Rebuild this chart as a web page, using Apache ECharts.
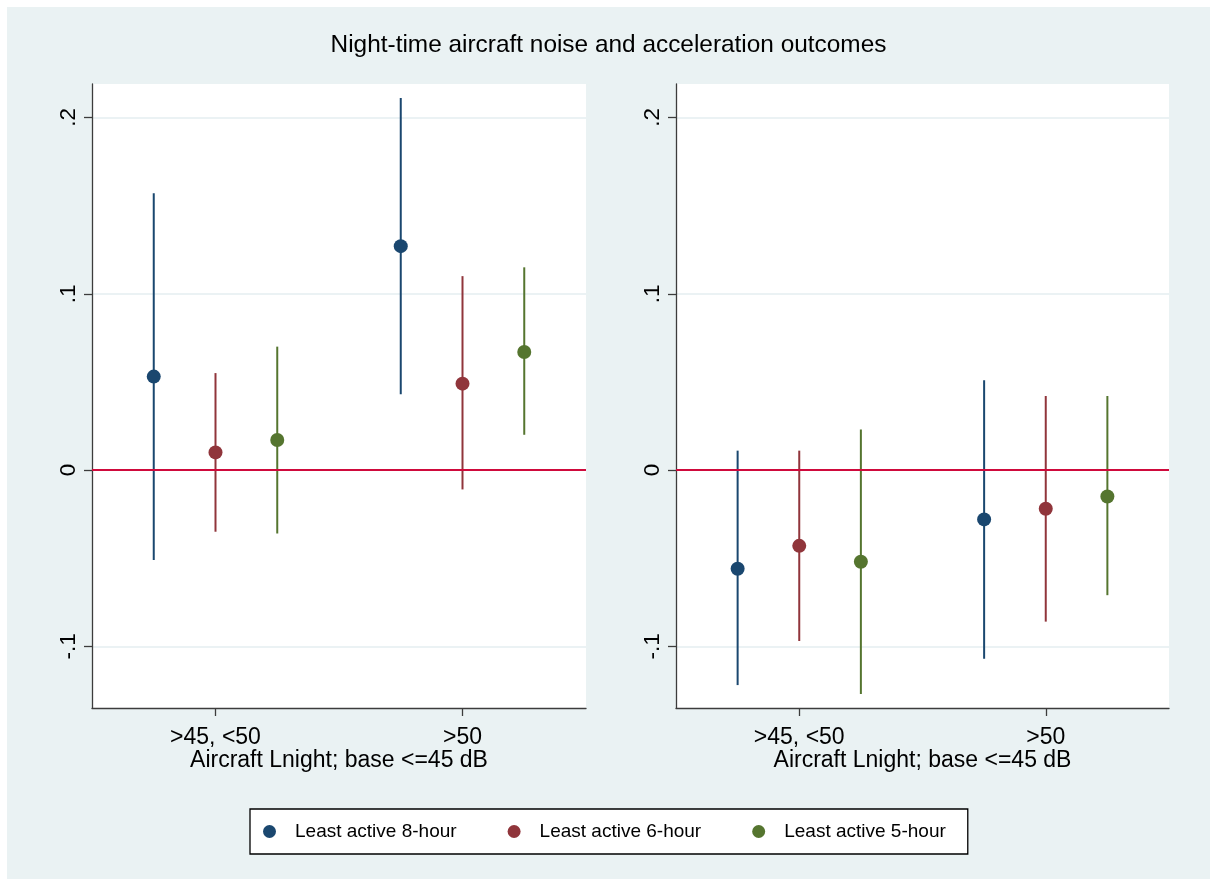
<!DOCTYPE html>
<html>
<head>
<meta charset="utf-8">
<title>Night-time aircraft noise and acceleration outcomes</title>
<script src="https://cdn.jsdelivr.net/npm/echarts@6/dist/echarts.min.js"></script>
<style>
  html, body { margin: 0; padding: 0; background: #ffffff; width: 1210px; height: 879px; overflow: hidden; }
  #chart { position: absolute; left: 7px; top: 7px; width: 1203px; height: 872px; }
</style>
</head>
<body>
<div id="chart"></div>
<script>
// Noise bands on the x axis and the three outcome definitions
const categories = ['>45, <50', '>50'];
const seriesNames = ['Least active 8-hour', 'Least active 6-hour', 'Least active 5-hour'];

// y-axis tick values and their printed labels
const yTicks = [-0.1, 0, 0.1, 0.2];
const yTickLabels = ['-.1', '0', '.1', '.2'];

// Left panel: estimates with lower / upper confidence bounds, one value per band
const leftEst8 = [0.053, 0.127];
const leftLo8  = [-0.051, 0.043];
const leftHi8  = [0.157, 0.211];
const leftEst6 = [0.010, 0.049];
const leftLo6  = [-0.035, -0.011];
const leftHi6  = [0.055, 0.110];
const leftEst5 = [0.017, 0.067];
const leftLo5  = [-0.036, 0.020];
const leftHi5  = [0.070, 0.115];

// Right panel
const rightEst8 = [-0.056, -0.028];
const rightLo8  = [-0.122, -0.107];
const rightHi8  = [0.011, 0.051];
const rightEst6 = [-0.043, -0.022];
const rightLo6  = [-0.097, -0.086];
const rightHi6  = [0.011, 0.042];
const rightEst5 = [-0.052, -0.015];
const rightLo5  = [-0.127, -0.071];
const rightHi5  = [0.023, 0.042];

const panels = [
  { est: [leftEst8, leftEst6, leftEst5], lo: [leftLo8, leftLo6, leftLo5], hi: [leftHi8, leftHi6, leftHi5] },
  { est: [rightEst8, rightEst6, rightEst5], lo: [rightLo8, rightLo6, rightLo5], hi: [rightHi8, rightHi6, rightHi5] }
];

// Each band sits at a slot on a 0..8 value axis; the three outcomes are spread around it
const slotCenters = [2, 6];
const slotOffsets = [-1, 0, 1];
const colors = ['#1a476f', '#90353b', '#55752f'];
const FONT = "'Liberation Sans', Arial, Helvetica, sans-serif";

const grids = [
  { left: 85, top: 77, width: 494, height: 624 },
  { left: 669, top: 77, width: 493, height: 624 }
];

const xAxes = grids.map((g, i) => ({
  type: 'value', gridIndex: i, min: 0, max: 8,
  name: 'Aircraft Lnight; base <=45 dB', nameLocation: 'middle', nameGap: 41,
  nameMoveOverlap: false,
  nameTextStyle: { fontFamily: FONT, fontSize: 23, color: '#000' },
  axisLine: { show: true, onZero: false, lineStyle: { color: '#3c3c3c', width: 1.3 } },
  axisTick: { show: true, length: 8, customValues: slotCenters, lineStyle: { color: '#3c3c3c', width: 1.3 } },
  axisLabel: {
    customValues: slotCenters, margin: 18, fontFamily: FONT, fontSize: 23, color: '#000',
    formatter: v => categories[slotCenters.indexOf(v)] || ''
  },
  splitLine: { show: false }
}));

const yAxes = grids.map((g, i) => ({
  type: 'value', gridIndex: i, min: -0.135, max: 0.219,
  axisLine: { show: true, onZero: false, lineStyle: { color: '#3c3c3c', width: 1.3 } },
  axisTick: { show: true, length: 8, customValues: yTicks, lineStyle: { color: '#3c3c3c', width: 1.3 } },
  axisLabel: {
    customValues: yTicks, rotate: 90, margin: 12, fontFamily: FONT, fontSize: 22.5, color: '#000',
    formatter: v => {
      const k = yTicks.findIndex(t => Math.abs(t - v) < 1e-9);
      return k >= 0 ? yTickLabels[k] : '';
    }
  },
  splitLine: { show: true, lineStyle: { color: '#e4eef0', width: 1.5 } }
}));

const series = [];
panels.forEach((panel, p) => {
  // zero reference line
  series.push({
    type: 'line', xAxisIndex: p, yAxisIndex: p, data: [], silent: true, z: 1,
    markLine: {
      silent: true, symbol: ['none', 'none'], label: { show: false },
      lineStyle: { color: '#cf0a3c', width: 2, type: 'solid' },
      emphasis: { disabled: true },
      data: [{ yAxis: 0 }]
    }
  });
  for (let s = 0; s < 3; s++) {
    const x = slotCenters.map(c => c + slotOffsets[s]);
    // point estimates
    series.push({
      type: 'scatter', name: seriesNames[s], xAxisIndex: p, yAxisIndex: p, z: 3,
      symbol: 'circle', symbolSize: 14,
      itemStyle: { color: colors[s], opacity: 1 },
      data: x.map((xv, i) => [xv, panel.est[s][i]])
    });
    // confidence interval spikes
    series.push({
      type: 'custom', name: seriesNames[s], xAxisIndex: p, yAxisIndex: p, z: 2, silent: true,
      itemStyle: { color: colors[s] },
      data: x.map((xv, i) => [xv, panel.lo[s][i], panel.hi[s][i]]),
      encode: { x: 0, y: [1, 2] },
      renderItem: (params, api) => {
        const a = api.coord([api.value(0), api.value(1)]);
        const b = api.coord([api.value(0), api.value(2)]);
        return {
          type: 'line',
          shape: { x1: a[0], y1: a[1], x2: b[0], y2: b[1] },
          style: { stroke: colors[s], lineWidth: 2 }
        };
      }
    });
  }
});

const chart = echarts.init(document.getElementById('chart'), null, { renderer: 'canvas' });
chart.setOption({
  backgroundColor: '#eaf2f3',
  animation: false,
  color: colors,
  textStyle: { fontFamily: FONT },
  title: {
    text: 'Night-time aircraft noise and acceleration outcomes',
    left: 'center', top: 21,
    textStyle: { fontFamily: FONT, fontSize: 24.4, fontWeight: 'normal', color: '#000' }
  },
  grid: grids.map(g => Object.assign({ backgroundColor: '#ffffff', show: true, borderWidth: 0 }, g)),
  xAxis: xAxes,
  yAxis: yAxes,
  legend: {
    data: seriesNames.map((n, s) => ({ name: n, icon: 'circle', itemStyle: { color: colors[s] } })),
    left: 243, top: 802,
    orient: 'horizontal',
    itemWidth: 13, itemHeight: 13, itemGap: 51,
    padding: [13, 22, 13, 13],
    backgroundColor: '#ffffff', borderColor: '#000000', borderWidth: 1.3, borderRadius: 0,
    textStyle: { fontFamily: FONT, fontSize: 19, color: '#000', padding: [0, 0, 0, 14] },
    selectedMode: false
  },
  series: series
});
</script>
</body>
</html>
